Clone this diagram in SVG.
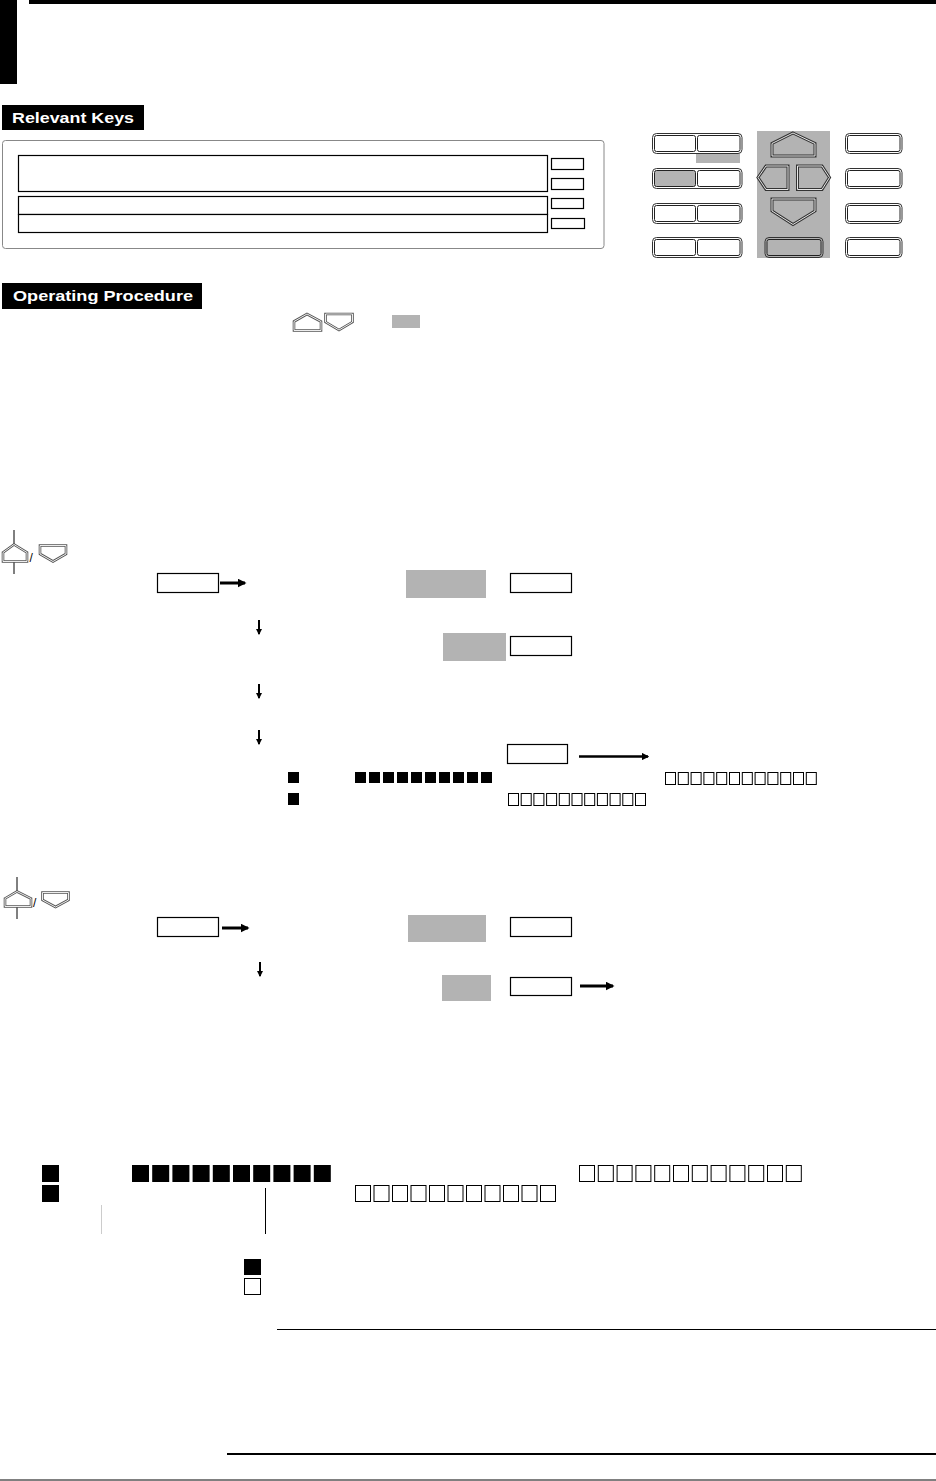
<svg xmlns="http://www.w3.org/2000/svg" width="936" height="1481" viewBox="0 0 936 1481">
<defs>
<style>
.lbl{font-family:"Liberation Sans",Arial,sans-serif;font-weight:bold;font-size:15px;fill:#fff}
.sl{font-family:"Liberation Sans",Arial,sans-serif;font-size:12px;fill:#000}
.box{fill:#fff;stroke:#000;stroke-width:1.2}
.gray{fill:#b3b3b3}
.ko{fill:#fff;stroke:#333;stroke-width:1}
.ki{fill:none;stroke:#222;stroke-width:1}
.kog{fill:#b3b3b3;stroke:#333;stroke-width:1}
.pa{fill:#b3b3b3;stroke:#333;stroke-width:3}
.pb{fill:none;stroke:#e6e6e6;stroke-width:1}
.ia{fill:#fff;stroke:#555;stroke-width:2.6}
.ib{fill:none;stroke:#fff;stroke-width:0.9}
.fs{fill:#000}
.hs{fill:#fff;stroke:#000;stroke-width:1}
.conn{stroke:#000;fill:none}
</style>
<marker id="ah" viewBox="0 0 6 6" refX="5" refY="3" markerWidth="3" markerHeight="3" orient="auto" markerUnits="strokeWidth">
<path d="M0,0 L6,3 L0,6 z" fill="#000"/>
</marker>
<marker id="ahs" viewBox="0 0 6 6" refX="5" refY="3" markerWidth="3.2" markerHeight="3.2" orient="auto" markerUnits="strokeWidth">
<path d="M0,0 L6,3 L0,6 z" fill="#000"/>
</marker>
</defs>
<rect width="936" height="1481" fill="#fff"/>

<g id="header">
<rect x="0" y="0" width="17" height="84" fill="#000"/>
<rect x="29" y="0" width="907" height="4" fill="#000"/>
</g>

<g id="relevant-keys-label">
<rect x="2" y="105" width="142" height="25" fill="#000"/>
<text class="lbl" x="12" y="123" textLength="122" lengthAdjust="spacingAndGlyphs">Relevant Keys</text>
</g>

<g id="panel">
<rect x="2.5" y="140.5" width="601.5" height="108" rx="3" fill="#fff" stroke="#888" stroke-width="1"/>
<rect class="box" x="18.5" y="155.5" width="529" height="36"/>
<rect class="box" x="18.5" y="196.5" width="529" height="18"/>
<rect class="box" x="18.5" y="214.5" width="529" height="18"/>
<rect class="box" x="551.5" y="158.5" width="32" height="11"/>
<rect class="box" x="551.5" y="178.5" width="32" height="11"/>
<rect class="box" x="551.5" y="198.5" width="32" height="10"/>
<rect class="box" x="551.5" y="218.5" width="33" height="10"/>
</g>

<g id="keypad">
<rect class="gray" x="696" y="153" width="44" height="10"/>
<g id="key-row1-left">
<rect class="ko" x="652.5" y="133.5" width="89.5" height="20" rx="4"/>
<rect class="ki" x="654.5" y="135.5" width="41" height="16" rx="2"/>
<rect class="ki" x="697.5" y="135.5" width="42.5" height="16" rx="2"/>
</g>
<g id="key-row2-left">
<rect class="ko" x="652.5" y="168.5" width="89.5" height="20" rx="4"/>
<rect x="654.5" y="170.5" width="41" height="16" rx="2" fill="#b3b3b3" stroke="#222" stroke-width="1"/>
<rect class="ki" x="697.5" y="170.5" width="42.5" height="16" rx="2"/>
</g>
<g id="key-row3-left">
<rect class="ko" x="652.5" y="203.5" width="89.5" height="20" rx="4"/>
<rect class="ki" x="654.5" y="205.5" width="41" height="16" rx="2"/>
<rect class="ki" x="697.5" y="205.5" width="42.5" height="16" rx="2"/>
</g>
<g id="key-row4-left">
<rect class="ko" x="652.5" y="237.5" width="89.5" height="20" rx="4"/>
<rect class="ki" x="654.5" y="239.5" width="41" height="16" rx="2"/>
<rect class="ki" x="697.5" y="239.5" width="42.5" height="16" rx="2"/>
</g>
<rect class="gray" x="757" y="131" width="73" height="127"/>
<g id="key-up">
<polygon class="pa" points="793,133 815,143.5 815,156 772,156 772,143.5"/>
<polygon class="pb" points="793,133 815,143.5 815,156 772,156 772,143.5"/>
</g>
<g id="key-left">
<polygon class="pa" points="758,177.5 766,166 788,166 788,189.5 766,189.5"/>
<polygon class="pb" points="758,177.5 766,166 788,166 788,189.5 766,189.5"/>
</g>
<g id="key-right">
<polygon class="pa" points="797.5,166 822,166 829.5,177.5 822,189.5 797.5,189.5"/>
<polygon class="pb" points="797.5,166 822,166 829.5,177.5 822,189.5 797.5,189.5"/>
</g>
<g id="key-down">
<polygon class="pa" points="772,199 815,199 815,211 793,224.5 772,211"/>
<polygon class="pb" points="772,199 815,199 815,211 793,224.5 772,211"/>
</g>
<g id="key-center">
<rect class="kog" x="765" y="237.5" width="58" height="20" rx="4"/>
<rect x="767" y="239.5" width="54" height="16" rx="2" fill="#b3b3b3" stroke="#222" stroke-width="1"/>
</g>
<g id="key-right-col">
<rect class="ko" x="845.5" y="133.5" width="56.5" height="20" rx="4"/>
<rect class="ki" x="847.5" y="135.5" width="52.5" height="16" rx="2"/>
<rect class="ko" x="845.5" y="168.5" width="56.5" height="20" rx="4"/>
<rect class="ki" x="847.5" y="170.5" width="52.5" height="16" rx="2"/>
<rect class="ko" x="845.5" y="203.5" width="56.5" height="20" rx="4"/>
<rect class="ki" x="847.5" y="205.5" width="52.5" height="16" rx="2"/>
<rect class="ko" x="845.5" y="237.5" width="56.5" height="20" rx="4"/>
<rect class="ki" x="847.5" y="239.5" width="52.5" height="16" rx="2"/>
</g>
</g>

<g id="operating-procedure-label">
<rect x="2" y="283" width="200" height="26" fill="#000"/>
<text class="lbl" x="13" y="301" textLength="180" lengthAdjust="spacingAndGlyphs">Operating Procedure</text>
</g>

<g id="op-icons">
<polygon class="ia" points="294,321.5 307,314 321,321.5 321,330.5 294,330.5"/>
<polygon class="ib" points="294,321.5 307,314 321,321.5 321,330.5 294,330.5"/>
<polygon class="ia" points="325.5,314 352.5,314 352.5,322 339,330 325.5,322"/>
<polygon class="ib" points="325.5,314 352.5,314 352.5,322 339,330 325.5,322"/>
<rect class="gray" x="392" y="315" width="28" height="13"/>
</g>

<g id="section1-icon">
<line x1="14" y1="530" x2="14" y2="544" stroke="#000" stroke-width="1"/>
<line x1="14" y1="562" x2="14" y2="574" stroke="#000" stroke-width="1"/>
<polygon class="ia" points="3,552.5 14,544.5 27,552.5 27,561.5 3,561.5"/>
<polygon class="ib" points="3,552.5 14,544.5 27,552.5 27,561.5 3,561.5"/>
<text class="sl" x="29.5" y="562">/</text>
<polygon class="ia" points="40,545.5 66,545.5 66,554 53,561.5 40,554"/>
<polygon class="ib" points="40,545.5 66,545.5 66,554 53,561.5 40,554"/>
</g>

<g id="section1-nodes">
<rect class="box" x="157.5" y="573.5" width="61" height="19"/>
<rect class="gray" x="406" y="570" width="80" height="28"/>
<rect class="box" x="510.5" y="573.5" width="61" height="19"/>
<rect class="gray" x="443" y="633" width="63" height="28"/>
<rect class="box" x="510.5" y="636.5" width="61" height="19"/>
<rect class="box" x="507.5" y="744.5" width="60" height="19"/>
</g>

<g id="section1-marks">
<rect class="fs" x="288" y="772" width="11" height="11"/>
<rect class="fs" x="288" y="793" width="11" height="12"/>
<g class="fs">
<rect x="355" y="772" width="11" height="11"/><rect x="369" y="772" width="11" height="11"/><rect x="383" y="772" width="11" height="11"/><rect x="397" y="772" width="11" height="11"/><rect x="411" y="772" width="11" height="11"/><rect x="425" y="772" width="11" height="11"/><rect x="439" y="772" width="11" height="11"/><rect x="453" y="772" width="11" height="11"/><rect x="467" y="772" width="11" height="11"/><rect x="481" y="772" width="11" height="11"/>
</g>
<g class="hs">
<rect x="665.5" y="772.5" width="10" height="12"/><rect x="678.3" y="772.5" width="10" height="12"/><rect x="691.1" y="772.5" width="10" height="12"/><rect x="703.9" y="772.5" width="10" height="12"/><rect x="716.7" y="772.5" width="10" height="12"/><rect x="729.5" y="772.5" width="10" height="12"/><rect x="742.3" y="772.5" width="10" height="12"/><rect x="755.1" y="772.5" width="10" height="12"/><rect x="767.9" y="772.5" width="10" height="12"/><rect x="780.7" y="772.5" width="10" height="12"/><rect x="793.5" y="772.5" width="10" height="12"/><rect x="806.3" y="772.5" width="10" height="12"/>
</g>
<g class="hs">
<rect x="508.5" y="793.5" width="10" height="12"/><rect x="521.2" y="793.5" width="10" height="12"/><rect x="533.9" y="793.5" width="10" height="12"/><rect x="546.6" y="793.5" width="10" height="12"/><rect x="559.3" y="793.5" width="10" height="12"/><rect x="572" y="793.5" width="10" height="12"/><rect x="584.7" y="793.5" width="10" height="12"/><rect x="597.4" y="793.5" width="10" height="12"/><rect x="610.1" y="793.5" width="10" height="12"/><rect x="622.8" y="793.5" width="10" height="12"/><rect x="635.5" y="793.5" width="10" height="12"/>
</g>
</g>

<g id="section2-icon">
<line x1="17" y1="877" x2="17" y2="891" stroke="#000" stroke-width="1"/>
<line x1="17" y1="907" x2="17" y2="919" stroke="#000" stroke-width="1"/>
<polygon class="ia" points="5,898.5 17,891.5 31,898.5 31,906.5 5,906.5"/>
<polygon class="ib" points="5,898.5 17,891.5 31,898.5 31,906.5 5,906.5"/>
<text class="sl" x="33" y="907">/</text>
<polygon class="ia" points="42.5,892.5 68.5,892.5 68.5,900 55.5,907 42.5,900"/>
<polygon class="ib" points="42.5,892.5 68.5,892.5 68.5,900 55.5,907 42.5,900"/>
</g>

<g id="section2-nodes">
<rect class="box" x="157.5" y="917.5" width="61" height="19"/>
<rect class="gray" x="408" y="915" width="78" height="27"/>
<rect class="box" x="510.5" y="917.5" width="61" height="19"/>
<rect class="gray" x="442" y="975" width="49" height="26"/>
<rect class="box" x="510.5" y="977.5" width="61" height="18"/>
</g>

<g id="connectors">
<line class="conn" x1="220" y1="583" x2="245" y2="583" stroke-width="3" marker-end="url(#ah)"/>
<line class="conn" x1="259" y1="620" x2="259" y2="634" stroke-width="2" marker-end="url(#ahs)"/>
<line class="conn" x1="259" y1="684" x2="259" y2="698" stroke-width="2" marker-end="url(#ahs)"/>
<line class="conn" x1="259" y1="730" x2="259" y2="744" stroke-width="2" marker-end="url(#ahs)"/>
<line class="conn" x1="579" y1="756.5" x2="648" y2="756.5" stroke-width="2.5" marker-end="url(#ah)"/>
<line class="conn" x1="222" y1="928" x2="248" y2="928" stroke-width="3" marker-end="url(#ah)"/>
<line class="conn" x1="260" y1="962" x2="260" y2="976" stroke-width="2" marker-end="url(#ahs)"/>
<line class="conn" x1="580" y1="986" x2="613" y2="986" stroke-width="3" marker-end="url(#ah)"/>
</g>

<g id="bottom-marks">
<rect class="fs" x="42" y="1165" width="17" height="17"/>
<rect class="fs" x="42" y="1185" width="17" height="17"/>
<g class="fs">
<rect x="132" y="1165" width="17" height="17"/><rect x="152.2" y="1165" width="17" height="17"/><rect x="172.4" y="1165" width="17" height="17"/><rect x="192.6" y="1165" width="17" height="17"/><rect x="212.8" y="1165" width="17" height="17"/><rect x="233" y="1165" width="17" height="17"/><rect x="253.2" y="1165" width="17" height="17"/><rect x="273.4" y="1165" width="17" height="17"/><rect x="293.6" y="1165" width="17" height="17"/><rect x="313.8" y="1165" width="17" height="17"/>
</g>
<g class="hs">
<rect x="579.5" y="1165.5" width="15" height="16"/><rect x="598.3" y="1165.5" width="15" height="16"/><rect x="617.1" y="1165.5" width="15" height="16"/><rect x="635.9" y="1165.5" width="15" height="16"/><rect x="654.7" y="1165.5" width="15" height="16"/><rect x="673.5" y="1165.5" width="15" height="16"/><rect x="692.3" y="1165.5" width="15" height="16"/><rect x="711.1" y="1165.5" width="15" height="16"/><rect x="729.9" y="1165.5" width="15" height="16"/><rect x="748.7" y="1165.5" width="15" height="16"/><rect x="767.5" y="1165.5" width="15" height="16"/><rect x="786.3" y="1165.5" width="15" height="16"/>
</g>
<g class="hs">
<rect x="355.5" y="1185.5" width="15" height="16"/><rect x="374" y="1185.5" width="15" height="16"/><rect x="392.5" y="1185.5" width="15" height="16"/><rect x="411" y="1185.5" width="15" height="16"/><rect x="429.5" y="1185.5" width="15" height="16"/><rect x="448" y="1185.5" width="15" height="16"/><rect x="466.5" y="1185.5" width="15" height="16"/><rect x="485" y="1185.5" width="15" height="16"/><rect x="503.5" y="1185.5" width="15" height="16"/><rect x="522" y="1185.5" width="15" height="16"/><rect x="540.5" y="1185.5" width="15" height="16"/>
</g>
<line x1="265.5" y1="1188" x2="265.5" y2="1234" stroke="#000" stroke-width="1"/>
<line x1="101.5" y1="1205" x2="101.5" y2="1234" stroke="#ccc" stroke-width="1"/>
<rect class="fs" x="244" y="1259" width="17" height="16"/>
<rect class="hs" x="244.5" y="1278.5" width="16" height="16"/>
</g>

<g id="footer">
<line x1="277" y1="1329.5" x2="936" y2="1329.5" stroke="#000" stroke-width="1"/>
<line x1="227" y1="1454" x2="936" y2="1454" stroke="#000" stroke-width="2"/>
<line x1="0" y1="1480" x2="936" y2="1480" stroke="#000" stroke-width="1"/>
</g>
</svg>
